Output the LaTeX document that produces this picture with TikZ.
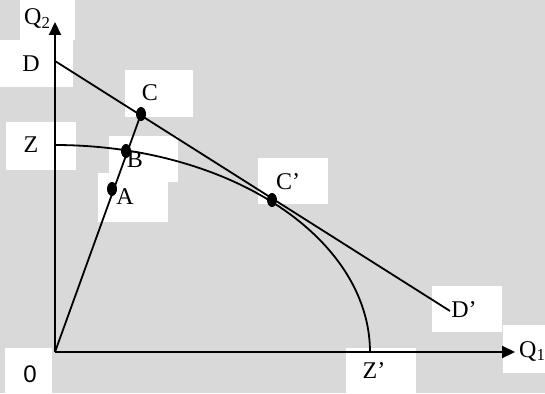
\documentclass[tikz,border=0pt]{standalone}
\usepackage{fontspec}
\setmainfont{Liberation Serif}
\newfontfamily\zerofont{Liberation Sans}
\usetikzlibrary{arrows.meta,shapes.geometric}
\definecolor{bg}{RGB}{217,217,217}
\begin{document}
\begin{tikzpicture}[x=1pt,y=-1pt,
  lbl/.style={font=\fontsize{24}{24}\selectfont, inner sep=0pt},
  dot/.style={ellipse, fill=black, minimum width=10pt, minimum height=14pt, inner sep=0pt},
  wbox/.style={fill=white},
  ln/.style={line width=1.8pt},
  ax/.style={line width=2.2pt, -{Triangle[length=13pt,width=12pt]}}]
\useasboundingbox (0,0) rectangle (545,393);
\fill[bg] (0,0) rectangle (545,393);
% white label boxes
\fill[wbox] (20,0) rectangle (75,40);
\fill[wbox] (0,40) rectangle (73,87);
\fill[wbox] (125,70) rectangle (193,117);
\fill[wbox] (6,122) rectangle (76,170);
\fill[wbox] (109,136) rectangle (178,182);
\fill[wbox] (98,173) rectangle (168,222);
\fill[wbox] (258,158) rectangle (328,204);
\fill[wbox] (432,286) rectangle (502,332);
\fill[wbox] (503,325) rectangle (545,373);
\fill[wbox] (346,348) rectangle (416,393);
\fill[wbox] (5,348) rectangle (52,393);
% points
\coordinate (O) at (55,352);
\coordinate (Ytop) at (55,22);
\coordinate (Xend) at (515,352);
\coordinate (D) at (55,61);
\coordinate (Dp) at (450,311);
\coordinate (C) at (141,114);
\coordinate (Z) at (55,145);
% axes
\draw[ax] (O) -- (Ytop);
\draw[ax] (O) -- (Xend);
% lines
\draw[ln] (D) -- (Dp);
\draw[ln] (O) -- (C);
\draw[ln] (Z) plot[domain=90:0, samples=80] ({55+315*cos(\x)},{352-207*sin(\x)});
% dots
\node[dot] (Cdot) at (C) {};
\node[dot] (Bdot) at (126,151) {};
\node[dot] (Adot) at (112,189) {};
\node[dot] (Cpdot) at (272,200) {};
% labels
\node[lbl, anchor=west] (lQ2) at (24,19) {Q\textsubscript{2}};
\node[lbl] (lD) at (31,64) {D};
\node[lbl] (lC) at (150,93) {C};
\node[lbl] (lZ) at (31,145) {Z};
\node[lbl] (lB) at (135,160) {B};
\node[lbl] (lA) at (125,197) {A};
\node[lbl] (lCp) at (288,182) {C’};
\node[lbl] (lDp) at (464,310) {D’};
\node[lbl] (lZp) at (374,371) {Z’};
\node[lbl, anchor=west] (lQ1) at (519,351) {Q\textsubscript{1}};
\node[inner sep=0pt, font=\zerofont\fontsize{24}{24}\selectfont] (l0) at (30,374) {0};
\end{tikzpicture}
\end{document}
